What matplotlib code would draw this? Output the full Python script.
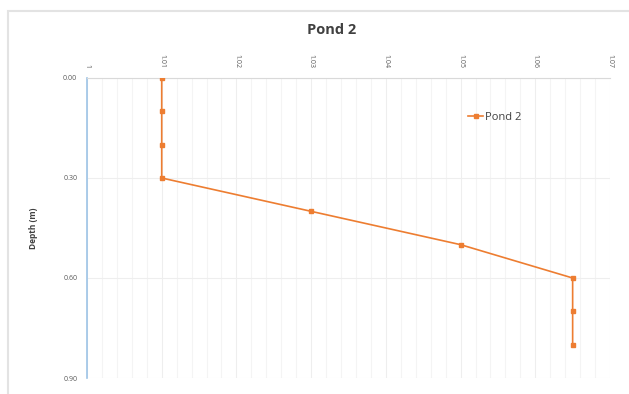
import matplotlib
matplotlib.use("Agg")
import matplotlib.pyplot as plt
from matplotlib.patches import Rectangle
from matplotlib.ticker import MultipleLocator, FixedLocator

plt.rcParams['font.family'] = ['Open Sans', 'DejaVu Sans']

# specific gravity vs depth for pond 2
density = [1.01, 1.01, 1.01, 1.01, 1.03, 1.05, 1.065, 1.065, 1.065]
depth = [0.0, 0.1, 0.2, 0.3, 0.4, 0.5, 0.6, 0.7, 0.8]
x_ticks = [1.00, 1.01, 1.02, 1.03, 1.04, 1.05, 1.06, 1.07]
x_labels = ["1", "1.01", "1.02", "1.03", "1.04", "1.05", "1.06", "1.07"]
y_ticks = [0.0, 0.3, 0.6, 0.9]
y_labels = ["0.00", "0.30", "0.60", "0.90"]

orange = "#ED7D31"
grid_c = "#EEEEEE"
text_c = "#595959"

fig = plt.figure(figsize=(6.29, 3.94), dpi=100)
fig.patches.append(Rectangle((8 / 629, -0.05), 1.1, 1 - 11 / 394 + 0.05,
                             transform=fig.transFigure, fill=False,
                             edgecolor="#E3E3E3", linewidth=1.5))

ax = fig.add_axes([87 / 629, 1 - 378 / 394, (610 - 87) / 629, (378 - 78) / 394])
ax.plot(density, depth, color=orange, linewidth=1.2, marker="s", markersize=2.6,
        label="Pond 2", zorder=3)

ax.set_xlim(1.0, 1.07)
ax.set_ylim(0.9, 0.0)
ax.xaxis.tick_top()
ax.xaxis.set_major_locator(FixedLocator(x_ticks))
ax.set_xticklabels(x_labels, rotation=270, fontsize=5, color=text_c)
ax.xaxis.set_minor_locator(MultipleLocator(0.002))
ax.set_yticks(y_ticks)
ax.set_yticklabels(y_labels, fontsize=5, color=text_c)
ax.tick_params(length=0, pad=7)
ax.tick_params(which="minor", length=0)

ax.grid(True, which="major", color=grid_c, linewidth=0.8)
ax.grid(True, which="minor", axis="x", color="#F4F4F4", linewidth=0.8)
ax.set_axisbelow(True)

for side in ["right", "bottom"]:
    ax.spines[side].set_visible(False)
ax.spines["top"].set_color("#D9D9D9")
ax.spines["left"].set_color("#9DC3E6")
ax.spines["left"].set_linewidth(1.2)

ax.set_ylabel("Depth (m)", fontsize=6, fontweight="bold", color="#404040", labelpad=18)
fig.text(0.5265, 1 - 30 / 394, "Pond 2", ha="center", va="center",
         fontsize=10.5, fontweight="bold", color="#404040")

leg = ax.legend(loc="upper left", bbox_to_anchor=(0.71, 0.92), frameon=False,
                fontsize=8, handlelength=1.3, handletextpad=0.2, labelcolor="#404040")

fig.savefig("out.png", dpi=100)
